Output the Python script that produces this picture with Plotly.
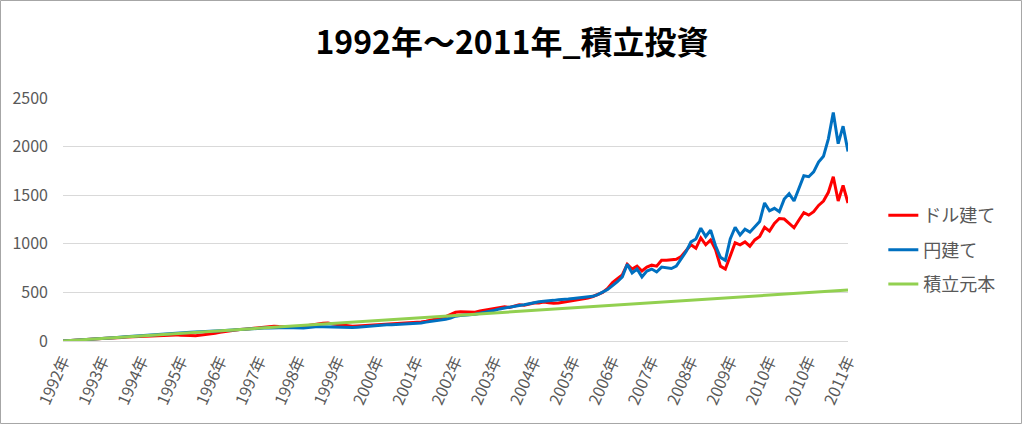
import plotly.graph_objects as go

# Tick labels (category labels shown on the x axis)
tick_labels = ["1992年", "1993年", "1994年", "1995年", "1996年", "1997年", "1998年",
               "1999年", "2000年", "2001年", "2002年", "2003年", "2004年", "2005年",
               "2006年", "2007年", "2008年", "2009年", "2010年", "2010年", "2011年"]

# ドル建て (dollar based) values, evenly spaced periods
dollar_vals = [
    0, 4, 8, 11, 13, 17, 20, 22, 26, 28, 33, 34, 37, 40, 42, 47,
    48, 52, 54, 56, 60, 62, 60, 63, 58, 60, 56, 55, 60, 66, 72, 80,
    90, 98, 106, 112, 118, 122, 128, 135, 140, 145, 150, 152, 148, 146, 145, 144,
    148, 150, 160, 170, 176, 182, 184, 175, 168, 160, 156, 152, 155, 158, 160, 164,
    168, 166, 170, 174, 176, 178, 182, 184, 190, 196, 204, 214, 226, 238, 252, 270,
    295, 300, 298, 302, 296, 310, 318, 326, 334, 348, 352, 344, 362, 372, 368, 380,
    390, 392, 400, 394, 388, 392, 400, 410, 420, 428, 436, 442, 458, 476, 500, 540,
    600, 640, 680, 790, 740, 770, 720, 760, 780, 770, 830, 832, 836, 840, 870, 936,
    990, 954, 1060, 990, 1040, 940, 770, 740, 880, 1010, 990, 1020, 975, 1040, 1075, 1170,
    1130, 1210, 1260, 1255, 1210, 1165, 1245, 1320, 1295, 1330, 1395, 1440, 1530, 1690, 1440, 1600,
    1420,
]

# 円建て (yen based) values, same periods
yen_vals = [
    0, 4, 7, 11, 14, 17, 21, 24, 27, 31, 33, 37, 40, 44, 47, 50,
    55, 58, 62, 64, 68, 72, 75, 79, 82, 86, 90, 92, 96, 98, 100, 104,
    106, 108, 112, 115, 118, 120, 122, 126, 130, 133, 134, 136, 140, 140, 138, 136,
    132, 134, 140, 146, 148, 146, 144, 142, 140, 138, 136, 138, 142, 146, 150, 158,
    164, 162, 166, 168, 170, 172, 176, 178, 180, 186, 194, 200, 208, 216, 224, 236,
    255, 262, 266, 272, 276, 286, 294, 304, 316, 330, 340, 346, 356, 366, 372, 384,
    396, 404, 410, 412, 418, 424, 426, 432, 438, 444, 446, 452, 460, 478, 500, 530,
    570, 610, 660, 790, 700, 740, 660, 720, 740, 710, 760, 752, 746, 770, 840, 920,
    1020, 1050, 1160, 1075, 1140, 980, 860, 830, 1050, 1170, 1090, 1150, 1120, 1175, 1230, 1420,
    1340, 1365, 1330, 1460, 1515, 1440, 1570, 1700, 1690, 1740, 1840, 1900, 2080, 2350, 2030, 2210,
    1950,
]

# 積立元本 (accumulated principal) read at each labelled position
principal_vals = [0, 26, 52, 79, 105, 131, 157, 184, 210, 236, 262,
                  289, 315, 341, 367, 394, 420, 446, 472, 499, 525]

periods = list(range(len(dollar_vals)))
step = (len(periods) - 1) // (len(tick_labels) - 1)
tick_pos = [i * step for i in range(len(tick_labels))]

font_family = "Noto Sans CJK JP"
gray_text = "#595959"

fig = go.Figure()
fig.add_trace(go.Scatter(x=periods, y=dollar_vals, mode="lines", name="ドル建て",
                         line=dict(color="#FF0000", width=3), legendgroup="a"))
fig.add_trace(go.Scatter(x=periods, y=yen_vals, mode="lines", name="円建て",
                         line=dict(color="#0070C0", width=3), legendgroup="b"))
fig.add_trace(go.Scatter(x=tick_pos, y=principal_vals, mode="lines", name="積立元本",
                         line=dict(color="#92D050", width=3), legendgroup="c"))

fig.update_layout(
    width=1024, height=425,
    margin=dict(l=63, r=176, t=98, b=84),
    paper_bgcolor="white", plot_bgcolor="white",
    font=dict(family=font_family, color=gray_text, size=15),
    title=dict(text="<b>1992年～2011年_積立投資</b>", x=0.5, xanchor="center",
               y=1 - 43 / 425, yanchor="middle",
               font=dict(family=font_family, size=32, color="#000000")),
    showlegend=True,
    legend=dict(x=1.045, xanchor="left", y=0.374, yanchor="middle",
                font=dict(size=18, color=gray_text), tracegroupgap=8,
                bgcolor="rgba(0,0,0,0)"),
    shapes=[dict(type="rect", xref="paper", yref="paper",
                 x0=-0.0796, x1=1.221, y0=-0.3395, y1=1.4012,
                 line=dict(color="#A6A6A6", width=1), fillcolor="rgba(0,0,0,0)",
                 layer="below")],
)

fig.update_xaxes(range=[0, periods[-1]], tickmode="array", tickvals=tick_pos,
                 ticktext=tick_labels, tickangle=-66, showgrid=False,
                 showline=False, zeroline=False, ticks="", ticklabelstandoff=6,
                 tickfont=dict(size=16, color=gray_text, family=font_family))
fig.update_yaxes(range=[0, 2500], tickvals=[0, 500, 1000, 1500, 2000, 2500],
                 showgrid=True, gridcolor="#D9D9D9", gridwidth=1,
                 zeroline=True, zerolinecolor="#D9D9D9", zerolinewidth=1,
                 showline=False, ticks="", ticklabelstandoff=14,
                 tickfont=dict(size=16, color=gray_text, family=font_family))

fig.write_html("out.html", config={"displayModeBar": False},
               post_script="document.body.style.margin='0';")
